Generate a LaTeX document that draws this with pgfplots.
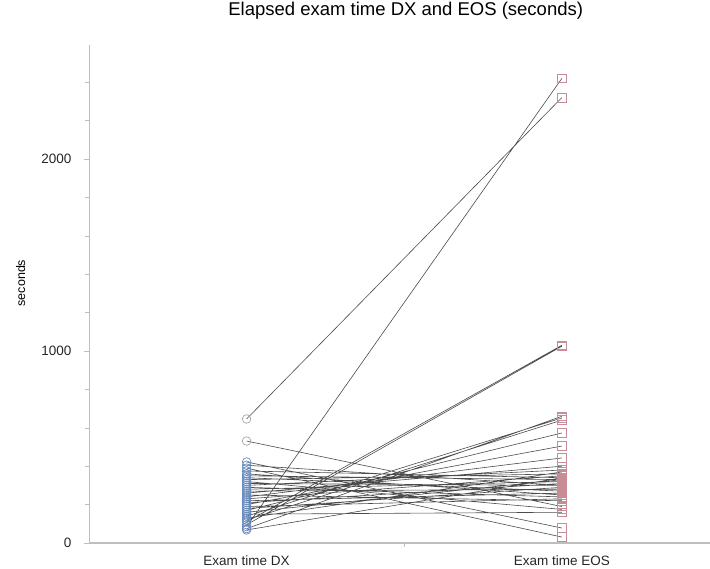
\documentclass[border=0pt]{standalone}
\usepackage{pgfplots}
\pgfplotsset{compat=1.18}
\usepackage{fontspec}
\setmainfont{Liberation Sans}
\definecolor{axgray}{RGB}{190,190,190}
\definecolor{dxblue}{RGB}{105,140,190}
\definecolor{dxgray}{RGB}{165,165,175}
\definecolor{eospink}{RGB}{200,140,150}
\definecolor{linegray}{RGB}{75,75,75}
\begin{document}
\begin{tikzpicture}
\useasboundingbox (-89pt,-26pt) rectangle (621pt,543pt);
\begin{axis}[
  at={(0,0)}, anchor=south west,
  scale only axis, width=621pt, height=498pt,
  xmin=-0.5, xmax=1.47, ymin=0, ymax=2594,
  clip=false,
  axis x line*=bottom, axis y line*=left,
  x axis line style={draw=axgray, line width=1.2pt},
  y axis line style={draw=axgray, line width=0.6pt},
  ytick={0,1000,2000},
  minor ytick={200,400,600,800,1200,1400,1600,1800,2200,2400},
  xtick={0,1},
  xticklabels={Exam time DX, Exam time EOS},
  minor xtick={0.5},
  every major x tick/.append style={draw=none},
  tick align=outside,
  major tick length=5pt, minor tick length=4pt,
  every tick/.style={draw=axgray, line width=0.6pt},
  ticklabel style={font=\fontsize{13.5}{15}\selectfont, text=black!85},
  /pgf/number format/assume math mode=true,
  /pgf/number format/1000 sep={},
  yticklabel style={anchor=east, xshift=-9pt},
  xticklabel style={anchor=north, yshift=-4pt},
  title={Elapsed exam time DX and EOS (seconds)},
  title style={font=\fontsize{18.5}{21}\selectfont, at={(axis description cs:0.51,1)}, anchor=center, yshift=28pt},
  ylabel={seconds},
  ylabel style={font=\fontsize{12.5}{14}\selectfont, at={(axis description cs:-0.11,0.522)}, anchor=center},
]
\addplot[draw=linegray, line width=0.6pt, scatter, point meta=explicit symbolic,
  unbounded coords=jump, mark size=4.3pt,
  mark options={solid, fill=none, line width=0.7pt},
  scatter/classes={
    a={mark=o, draw=dxblue},
    g={mark=o, draw=dxgray},
    b={mark=square, draw=eospink}}]
coordinates {
(0,646)[g] (1,2320)[b] (0.5,nan)[a]
(0,531)[g] (1,190)[b] (0.5,nan)[a]
(0,422)[a] (1,78)[b] (0.5,nan)[a]
(0,405)[a] (1,300)[b] (0.5,nan)[a]
(0,390)[a] (1,31)[b] (0.5,nan)[a]
(0,375)[a] (1,340)[b] (0.5,nan)[a]
(0,360)[a] (1,250)[b] (0.5,nan)[a]
(0,350)[a] (1,330)[b] (0.5,nan)[a]
(0,340)[a] (1,270)[b] (0.5,nan)[a]
(0,330)[a] (1,360)[b] (0.5,nan)[a]
(0,320)[a] (1,175)[b] (0.5,nan)[a]
(0,310)[a] (1,300)[b] (0.5,nan)[a]
(0,300)[a] (1,380)[b] (0.5,nan)[a]
(0,290)[a] (1,240)[b] (0.5,nan)[a]
(0,280)[a] (1,320)[b] (0.5,nan)[a]
(0,270)[a] (1,280)[b] (0.5,nan)[a]
(0,260)[a] (1,400)[b] (0.5,nan)[a]
(0,250)[a] (1,220)[b] (0.5,nan)[a]
(0,240)[a] (1,443)[b] (0.5,nan)[a]
(0,230)[a] (1,350)[b] (0.5,nan)[a]
(0,220)[a] (1,260)[b] (0.5,nan)[a]
(0,210)[a] (1,310)[b] (0.5,nan)[a]
(0,200)[a] (1,505)[b] (0.5,nan)[a]
(0,190)[a] (1,230)[b] (0.5,nan)[a]
(0,180)[a] (1,290)[b] (0.5,nan)[a]
(0,170)[a] (1,573)[b] (0.5,nan)[a]
(0,160)[a] (1,330)[b] (0.5,nan)[a]
(0,150)[a] (1,160)[b] (0.5,nan)[a]
(0,140)[a] (1,651)[b] (0.5,nan)[a]
(0,130)[a] (1,370)[b] (0.5,nan)[a]
(0,120)[a] (1,640)[b] (0.5,nan)[a]
(0,110)[a] (1,1030)[b] (0.5,nan)[a]
(0,85)[a] (1,2420)[b] (0.5,nan)[a]
(0,95)[a] (1,1025)[b] (0.5,nan)[a]
(0,75)[a] (1,660)[b] (0.5,nan)[a]
(0,68)[a] (1,340)[b]
};
\end{axis}
\end{tikzpicture}
\end{document}
